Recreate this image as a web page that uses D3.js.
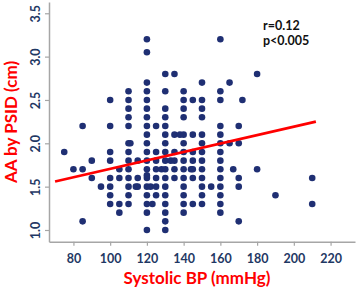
<!DOCTYPE html>
<html>
<head>
<meta charset="utf-8">
<script src="https://cdn.jsdelivr.net/npm/d3@7"></script>
<style>
  body { margin: 0; background: #fff; }
  svg text { font-family: Lato, "Open Sans", sans-serif; }
</style>
</head>
<body>
<div id="chart"></div>
<script>
// Systolic BP values, one entry per dot
const sbp = [
  75, 80, 85, 85, 85, 90, 90, 95,
  100, 100, 100, 100, 100, 100, 100, 100,
  105, 105, 105, 105,
  110, 110, 110, 110, 110, 110, 110, 110, 110, 110, 110, 110, 110, 111,
  115, 115, 115, 114,
  120, 120, 120, 120, 120, 120, 120, 120, 120, 120, 120, 120, 120, 120, 120, 120, 120, 120, 120, 120,
  122, 123,
  125, 125, 125, 125, 125, 125, 125, 128,
  130, 130, 130, 130, 130, 130, 130, 130, 130, 130, 130, 130, 130, 130, 130, 130, 130,
  133, 135, 135, 135, 135, 135, 135, 138,
  140, 140, 140, 140, 140, 140, 140, 140, 140, 140, 140, 140, 140, 140,
  144, 145, 145, 145, 145, 145, 145, 145,
  150, 150, 150, 150, 150, 150, 150, 150, 150, 150, 150, 150, 150, 155,
  160, 160, 160, 160, 160, 160, 160, 160, 160, 160, 160, 160, 160, 160,
  165, 165, 167, 170, 170, 170, 170, 170, 172,
  180, 180, 190, 210, 210
];

// AA by PSID (cm), same order as sbp
const aa = [
  1.9, 1.7, 2.2, 1.7, 1.1, 1.8, 1.6, 1.5,
  2.5, 2.2, 1.9, 1.8, 1.6, 1.5, 1.4, 1.3,
  1.7, 1.6, 1.3, 1.2,
  2.6, 2.5, 2.4, 2.3, 2.2, 2.0, 1.9, 1.8, 1.7, 1.6, 1.5, 1.4, 1.3, 2.0,
  1.8, 1.6, 1.5, 1.5,
  3.2, 3.05, 2.7, 2.6, 2.5, 2.4, 2.3, 2.2, 2.1, 2.0, 1.9, 1.8, 1.7, 1.6, 1.5, 1.4, 1.3, 1.2, 1.0, 1.63,
  1.5, 1.3,
  2.2, 1.9, 1.8, 1.7, 1.6, 1.5, 1.4, 1.7,
  2.8, 2.6, 2.4, 2.3, 2.2, 2.1, 2.0, 1.9, 1.8, 1.7, 1.6, 1.5, 1.4, 1.3, 1.2, 1.1, 1.0,
  1.8, 2.8, 2.1, 1.9, 1.8, 1.7, 1.6, 2.1,
  2.6, 2.5, 2.4, 2.3, 2.1, 2.0, 1.9, 1.8, 1.7, 1.6, 1.5, 1.4, 1.3, 1.2,
  1.7, 2.5, 2.1, 1.9, 1.8, 1.7, 1.6, 1.3,
  2.7, 2.5, 2.4, 2.3, 2.1, 2.0, 1.9, 1.8, 1.7, 1.6, 1.5, 1.4, 1.3, 1.5,
  3.2, 2.6, 2.5, 2.2, 2.1, 2.0, 1.9, 1.8, 1.7, 1.6, 1.5, 1.4, 1.3, 1.2,
  2.7, 2.0, 1.7, 2.2, 2.0, 1.6, 1.5, 1.1, 2.5,
  2.8, 1.7, 1.4, 1.6, 1.3
];

// Regression line end points
const fitX = [70, 212];
const fitY = [1.56, 2.25];

// Tick labels
const xTicks = [80, 100, 120, 140, 160, 180, 200, 220];
const yTicks = [1.0, 1.5, 2.0, 2.5, 3.0, 3.5];

const stats = ["r=0.12", "p<0.005"];

let data = sbp.map(function(d, i) {
    return { x: d, y: aa[i] };
});

let width = 358;
let height = 292;

let svg = d3.select("#chart")
    .append("svg")
    .attr("width", width)
    .attr("height", height);

// Scales set so the axis lines run the same length as in the picture
let x = d3.scaleLinear()
    .domain([66.7, 233.3])
    .range([49, 355]);

let y = d3.scaleLinear()
    .domain([0.865, 3.63])
    .range([241.7, 2]);

let axisColor = "#a6a6a6";
let tickColor = "#1f3864";

// X axis
let xAxis = svg.append("g")
    .attr("transform", "translate(0," + y.range()[0] + ")")
    .call(d3.axisBottom(x).tickValues(xTicks).tickSize(4).tickSizeOuter(0).tickPadding(8));

xAxis.select(".domain").attr("stroke", axisColor).attr("stroke-width", 1.5);
xAxis.selectAll(".tick line").attr("stroke", axisColor).attr("stroke-width", 1.2);
xAxis.selectAll("text")
    .attr("fill", tickColor)
    .style("font-size", "12.5px")
    .style("font-weight", "bold");

// Y axis
let yAxis = svg.append("g")
    .attr("transform", "translate(" + x.range()[0] + ",0)")
    .call(d3.axisLeft(y).tickValues(yTicks).tickFormat(d3.format(".1f")).tickSize(4).tickSizeOuter(0));

yAxis.select(".domain").attr("stroke", axisColor).attr("stroke-width", 1.5);
yAxis.selectAll(".tick line").attr("stroke", axisColor).attr("stroke-width", 1.2);
yAxis.selectAll("text")
    .attr("fill", tickColor)
    .attr("x", null)
    .attr("dy", null)
    .attr("transform", "translate(-9,0) rotate(-90)")
    .style("text-anchor", "middle")
    .style("font-size", "12.5px")
    .style("font-weight", "bold");

// Dots
svg.append("g")
    .selectAll("circle")
    .data(data)
    .enter().append("circle")
    .attr("cx", function(d) { return x(d.x); })
    .attr("cy", function(d) { return y(d.y); })
    .attr("r", 3.3)
    .attr("fill", "#1f2f73");

// Regression line
svg.append("line")
    .attr("x1", x(fitX[0]))
    .attr("y1", y(fitY[0]))
    .attr("x2", x(fitX[1]))
    .attr("y2", y(fitY[1]))
    .attr("stroke", "#ff0000")
    .attr("stroke-width", 2.6);

// r and p text
svg.append("g")
    .selectAll("text")
    .data(stats)
    .enter().append("text")
    .attr("x", 263)
    .attr("y", function(d, i) { return 30 + i * 15; })
    .style("font-size", "12.5px")
    .style("font-weight", "bold")
    .attr("fill", "#111")
    .text(function(d) { return d; });

// Axis titles
svg.append("text")
    .attr("x", 197)
    .attr("y", 284)
    .attr("text-anchor", "middle")
    .attr("fill", "#ff0000")
    .style("font-size", "17px")
    .style("font-weight", "bold")
    .text("Systolic BP (mmHg)");

svg.append("text")
    .attr("transform", "translate(17,122) rotate(-90)")
    .attr("text-anchor", "middle")
    .attr("fill", "#ff0000")
    .style("font-size", "17px")
    .style("font-weight", "bold")
    .text("AA by PSID (cm)");
</script>
</body>
</html>
